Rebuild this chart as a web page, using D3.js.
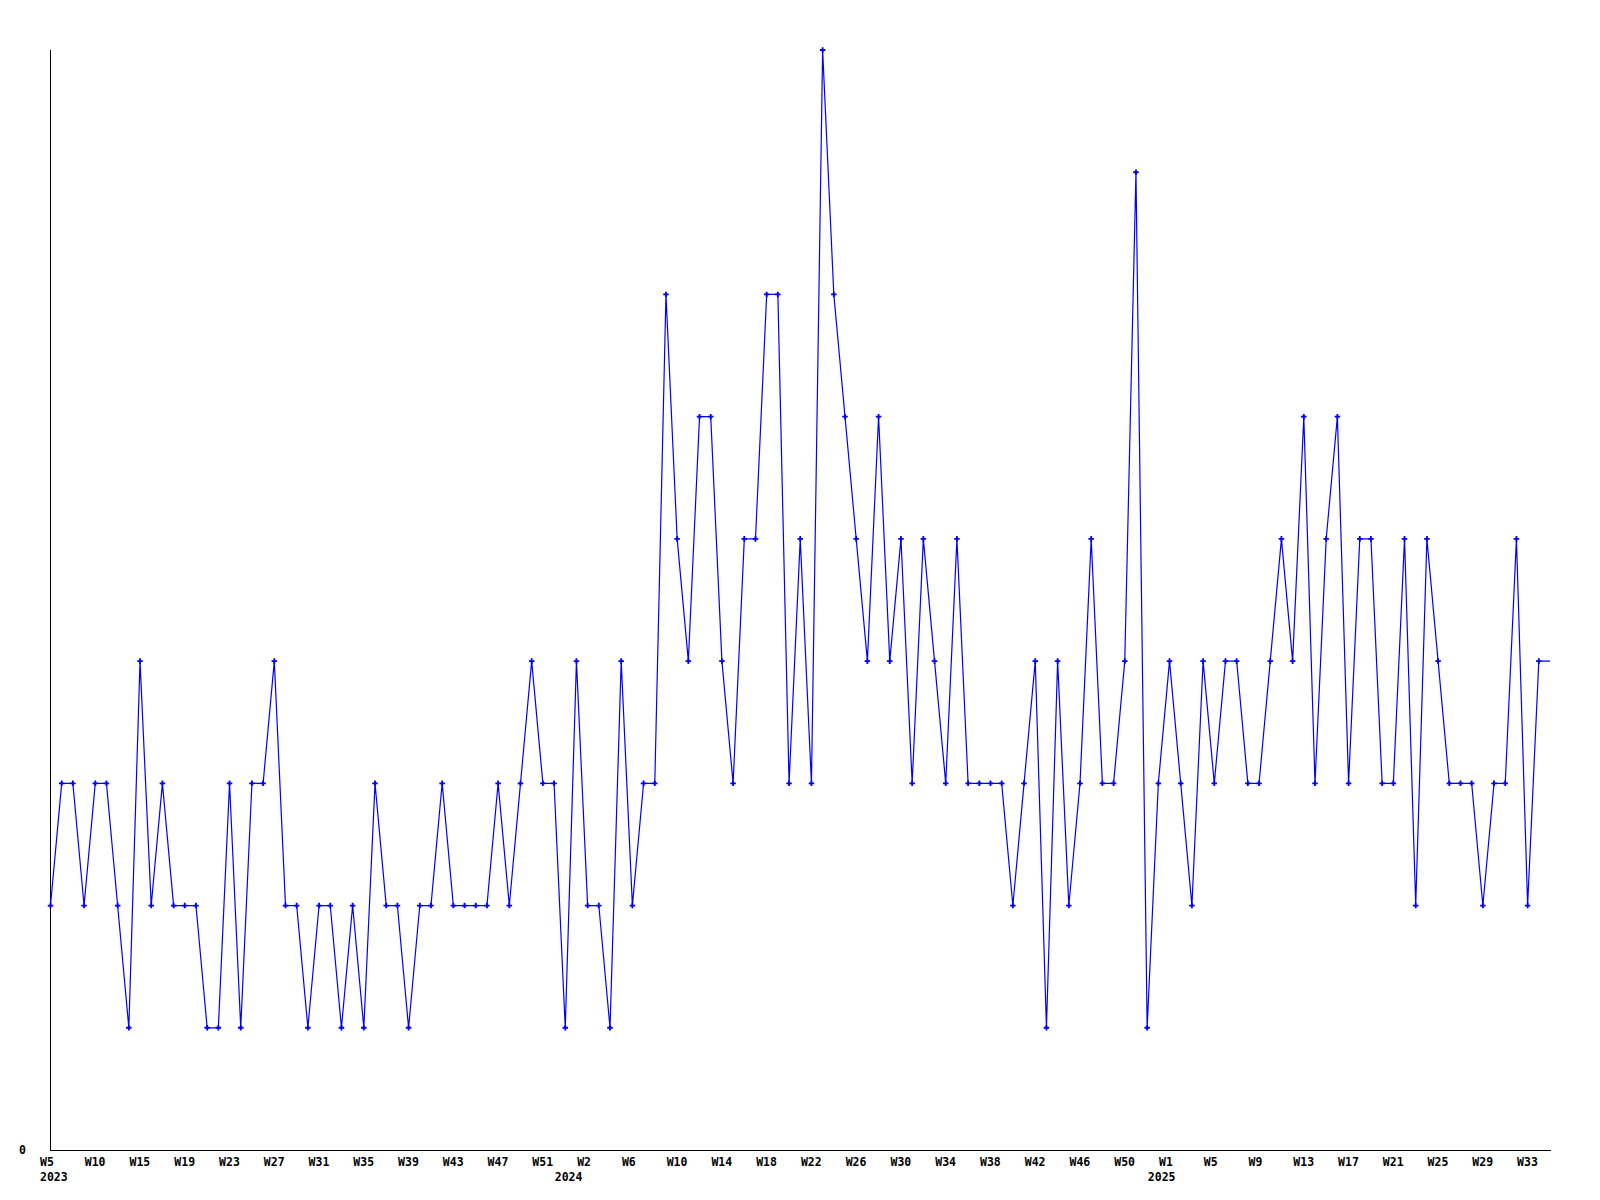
<!DOCTYPE html>
<html>
<head>
<meta charset="utf-8">
<script src="https://cdn.jsdelivr.net/npm/d3@7"></script>
<style>
  html, body { margin: 0; padding: 0; background: #fff; }
  svg { display: block; }
  text { font-family: "DejaVu Sans Mono", "Liberation Mono", monospace; font-weight: bold; font-size: 11.5px; fill: #000; }
</style>
</head>
<body>
<svg id="chart" width="1600" height="1200"></svg>
<script>
// Weekly values (index 0 = 2023 W5); last entry is the trailing partial segment without marker
const values = [
  2,3,3,2,3,3,2,1,4,2, 3,2,2,2,1,1,3,1,3,3,
  4,2,2,1,2,2,1,2,1,3, 2,2,1,2,2,3,2,2,2,2,
  3,2,3,4,3,3,1,4,2,2, 1,4,2,3,3,7,5,4,6,6,
  4,3,5,5,7,7,3,5,3,9, 7,6,5,4,6,4,5,3,5,4,
  3,5,3,3,3,3,2,3,4,1, 4,2,3,5,3,3,4,8,1,3,
  4,3,2,4,3,4,4,3,3,4, 5,4,6,3,5,6,3,5,5,3,
  3,5,2,5,4,3,3,3,2,3, 3,5,2,4,
  4
];
const markerCount = 134;

// Week tick labels, one every 4 points
const weekTickIndex = [0,4,8,12,16,20,24,28,32,36,40,44,48,52,56,60,64,68,72,76,80,84,88,92,96,100,104,108,112,116,120,124,128,132];
const weekTickLabels = ["W5","W10","W15","W19","W23","W27","W31","W35","W39","W43","W47","W51",
  "W2","W6","W10","W14","W18","W22","W26","W30","W34","W38","W42","W46","W50",
  "W1","W5","W9","W13","W17","W21","W25","W29","W33"];
const yearTickIndex = [0, 46, 99];
const yearTickLabels = ["2023", "2024", "2025"];
const yTickValues = [0];

const svg = d3.select("#chart");
const x = d3.scaleLinear().domain([0, values.length - 1]).range([50.5, 1550]);
const y = d3.scaleLinear().domain([0, 9]).range([1150, 50]);

// axes lines
svg.append("line").attr("x1", 50.5).attr("x2", 50.5).attr("y1", y(9)).attr("y2", y(0))
  .attr("stroke", "#000").attr("stroke-width", 1);
svg.append("line").attr("x1", 50).attr("x2", x(values.length - 1) + 1).attr("y1", y(0) + 0.5).attr("y2", y(0) + 0.5)
  .attr("stroke", "#000").attr("stroke-width", 1);

// y labels
svg.selectAll("text.ylab").data(yTickValues).join("text")
  .attr("class", "ylab")
  .attr("x", 22.5).attr("y", d => y(d) + 4)
  .attr("text-anchor", "middle")
  .text(d => d);

// week labels
svg.selectAll("text.wk").data(weekTickIndex).join("text")
  .attr("class", "wk")
  .attr("x", d => x(d) - 10.5)
  .attr("y", 1165.5)
  .attr("text-anchor", "start")
  .text((d, i) => weekTickLabels[i]);

// year labels
svg.selectAll("text.yr").data(yearTickIndex).join("text")
  .attr("class", "yr")
  .attr("x", d => x(d) - 10.5)
  .attr("y", 1180.5)
  .attr("text-anchor", "start")
  .text((d, i) => yearTickLabels[i]);

// line
const line = d3.line().x((d, i) => x(i)).y(d => y(d));
svg.append("path").datum(values)
  .attr("d", line)
  .attr("fill", "none")
  .attr("stroke", "#0000ff")
  .attr("stroke-width", 1.2);

// markers
const sym = d3.symbol().type(d3.symbolCross).size(17);
svg.selectAll("path.mk").data(values.slice(0, markerCount)).join("path")
  .attr("class", "mk")
  .attr("transform", (d, i) => `translate(${x(i)},${y(d)})`)
  .attr("d", sym)
  .attr("fill", "#0000ff");
</script>
</body>
</html>
